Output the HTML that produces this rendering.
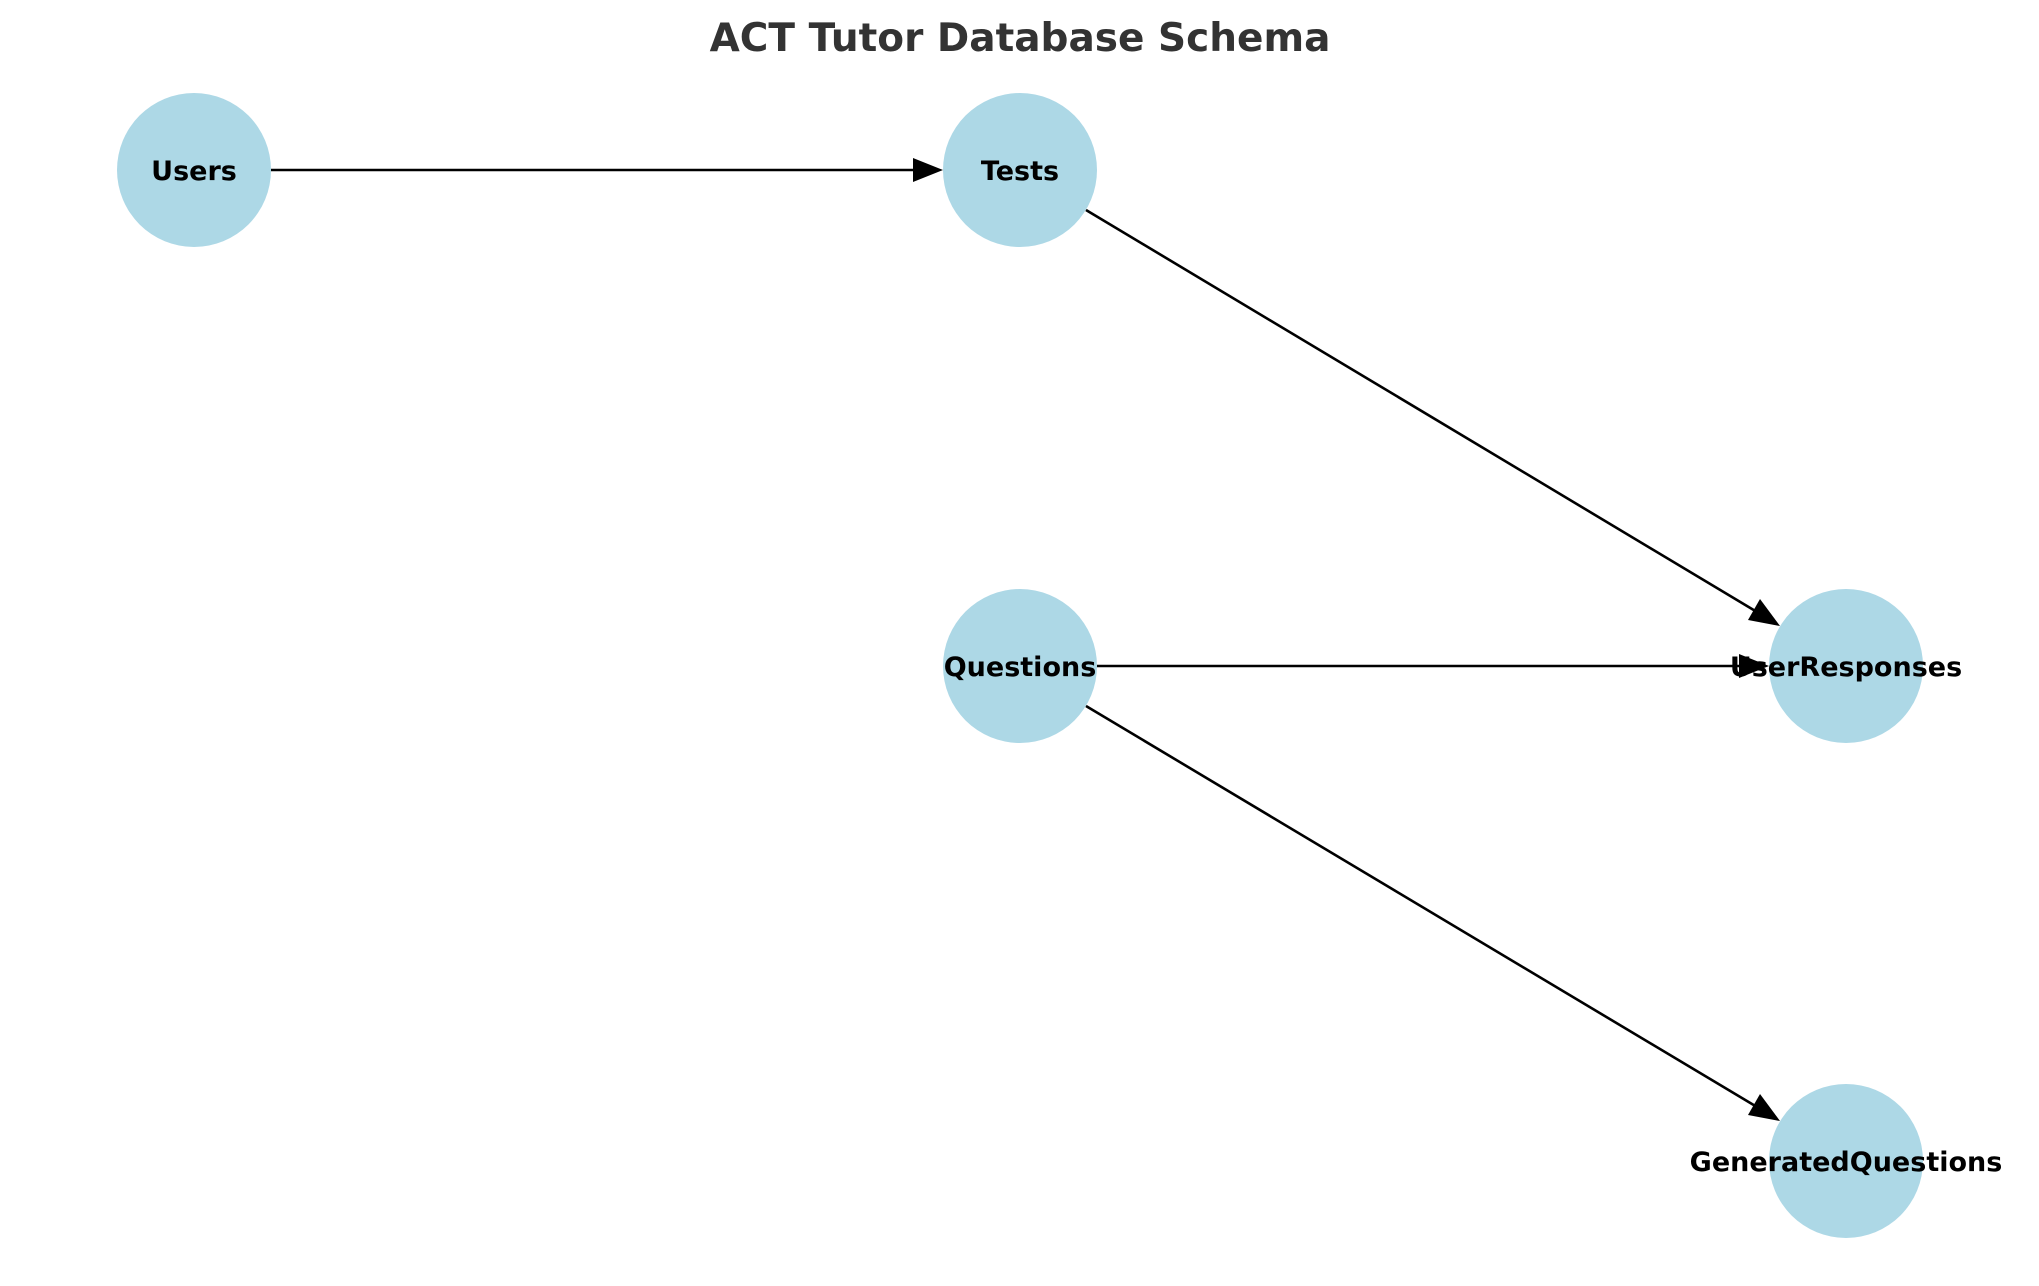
<!DOCTYPE html>
<html><head><style>body{margin:0;background:#fff}svg{display:block}</style></head><body>
<svg width="2039" height="1286" viewBox="0 0 2039 1286" xmlns="http://www.w3.org/2000/svg">
<text x="1020" y="51" text-anchor="middle" font-family="DejaVu Sans, sans-serif" font-weight="bold" font-size="39" fill="#333">ACT Tutor Database Schema</text>
<g fill="#add8e6">
<circle cx="194" cy="170" r="77"/><circle cx="1020" cy="170" r="77"/><circle cx="1020" cy="666" r="77"/><circle cx="1846" cy="666" r="77"/><circle cx="1846" cy="1161" r="77"/>
</g>
<g stroke="#000" stroke-width="2.6">
<line x1="271" y1="170" x2="918" y2="170"/>
<line x1="1086" y1="210" x2="1757" y2="612"/>
<line x1="1097" y1="666" x2="1744" y2="666"/>
<line x1="1086" y1="706" x2="1757" y2="1107"/>
</g>
<g fill="#000">
<polygon points="943,170 913,158 913,182"/>
<polygon points="1780,626 1760,599 1748,620"/>
<polygon points="1769,666 1739,654 1739,678"/>
<polygon points="1780,1121 1760,1094 1748,1115"/>
</g>
<g font-family="DejaVu Sans, sans-serif" font-weight="bold" font-size="27" text-anchor="middle" fill="#000">
<text x="194" y="180">Users</text><text x="1020" y="180">Tests</text><text x="1020" y="676">Questions</text><text x="1846" y="676">UserResponses</text><text x="1846" y="1171">GeneratedQuestions</text>
</g>
</svg>
</body></html>
